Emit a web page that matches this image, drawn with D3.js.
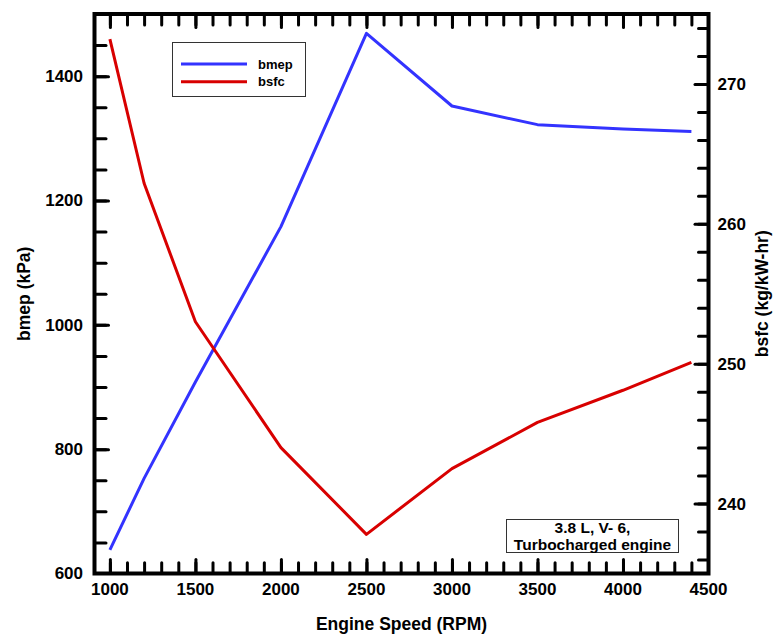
<!DOCTYPE html>
<html>
<head>
<meta charset="utf-8">
<script src="https://cdn.jsdelivr.net/npm/d3@7/dist/d3.min.js"></script>
<style>
  html, body { margin: 0; padding: 0; background: #fff; }
  svg { display: block; }
  text { font-family: "Liberation Sans", Arial, Helvetica, sans-serif; font-weight: bold; fill: #000; }
</style>
</head>
<body>
<svg id="chart" width="775" height="638"></svg>
<script>
// Engine speed (RPM)
const rpm = [1000, 1200, 1500, 2000, 2500, 3000, 3500, 4000, 4400];
// Brake mean effective pressure (kPa)
const bmep = [638, 753, 908, 1158, 1469, 1352, 1322, 1315, 1311];
// Brake specific fuel consumption, as labelled on the right axis
const bsfc = [273.2, 262.9, 253.0, 244.0, 237.8, 242.5, 245.8, 248.1, 250.1];

// Labelled ticks
const xTickLabels = [1000, 1500, 2000, 2500, 3000, 3500, 4000, 4500];
const bmepTickLabels = [600, 800, 1000, 1200, 1400];
const bsfcTickLabels = [240, 250, 260, 270];

const seriesNames = ["bmep", "bsfc"];
const seriesColors = ["#3333ff", "#d80000"];
const noteLines = ["3.8 L, V- 6,", "Turbocharged engine"];

const svg = d3.select("#chart");
const plotLeft = 94.5, plotRight = 708.5, plotTop = 14, plotBottom = 573.5;

const x = d3.scaleLinear().domain([910, 4500]).range([plotLeft, plotRight]);
const yL = d3.scaleLinear().domain([600, 1500]).range([plotBottom, plotTop]);
const yR = d3.scaleLinear().domain([235, 275]).range([plotBottom, plotTop]);

const tickStyle = g => g.selectAll("line")
  .attr("stroke", "#000").attr("stroke-width", 3).attr("stroke-linecap", "round");

// Inward-pointing ticks along a side, minor then major
function ticks(axisFn, scale, minorVals, majorVals, minorLen, majorLen, transform) {
  const gMin = svg.append("g").attr("transform", transform)
    .call(axisFn(scale).tickValues(minorVals).tickSize(-minorLen).tickFormat(""));
  const gMaj = svg.append("g").attr("transform", transform)
    .call(axisFn(scale).tickValues(majorVals).tickSize(-majorLen).tickFormat(""));
  [gMin, gMaj].forEach(g => { g.select(".domain").remove(); g.call(tickStyle); });
}

const xMinor = d3.range(1000, 4500, 100);
const xMajor = xTickLabels.filter(v => v < 4500);
ticks(d3.axisBottom, x, xMinor, xMajor, 10.8, 14, `translate(0,${plotBottom})`);
ticks(d3.axisTop, x, xMinor, xMajor, 11, 13.5, `translate(0,${plotTop})`);

const lMinor = d3.range(650, 1500, 50);
ticks(d3.axisLeft, yL, lMinor, bmepTickLabels.filter(v => v > 600), 11.5, 14, `translate(${plotLeft},0)`);

const rMinor = d3.range(236, 275, 2);
ticks(d3.axisRight, yR, rMinor, bsfcTickLabels, 10, 13.5, `translate(${plotRight},0)`);

// Frame
svg.append("rect")
  .attr("x", plotLeft).attr("y", plotTop)
  .attr("width", plotRight - plotLeft).attr("height", plotBottom - plotTop)
  .attr("fill", "none").attr("stroke", "#000").attr("stroke-width", 4);

// Tick labels
svg.append("g").selectAll("text").data(xTickLabels).join("text")
  .attr("x", d => x(d)).attr("y", 594.5)
  .attr("text-anchor", "middle").attr("font-size", 17).text(d => d);

svg.append("g").selectAll("text").data(bmepTickLabels).join("text")
  .attr("x", 83).attr("y", d => yL(d)).attr("dy", "0.35em")
  .attr("text-anchor", "end").attr("font-size", 17).text(d => d);

svg.append("g").selectAll("text").data(bsfcTickLabels).join("text")
  .attr("x", 717.5).attr("y", d => yR(d)).attr("dy", "0.35em")
  .attr("text-anchor", "start").attr("font-size", 17).text(d => d);

// Axis titles
svg.append("text").attr("x", (plotLeft + plotRight) / 2).attr("y", 630)
  .attr("text-anchor", "middle").attr("font-size", 17.5).text("Engine Speed (RPM)");
svg.append("text")
  .attr("transform", `translate(30,${(plotTop + plotBottom) / 2}) rotate(-90)`)
  .attr("text-anchor", "middle").attr("font-size", 17.5).text("bmep (kPa)");
svg.append("text")
  .attr("transform", `translate(768,${(plotTop + plotBottom) / 2}) rotate(-90)`)
  .attr("text-anchor", "middle").attr("font-size", 17.5).text("bsfc (kg/kW-hr)");

// Series lines
const lineL = d3.line().x((d, i) => x(rpm[i])).y(d => yL(d));
const lineR = d3.line().x((d, i) => x(rpm[i])).y(d => yR(d));

svg.append("path").datum(bmep).attr("d", lineL)
  .attr("fill", "none").attr("stroke", seriesColors[0]).attr("stroke-width", 3)
  .attr("stroke-linejoin", "round");
svg.append("path").datum(bsfc).attr("d", lineR)
  .attr("fill", "none").attr("stroke", seriesColors[1]).attr("stroke-width", 3)
  .attr("stroke-linejoin", "round");

// Legend
const legend = svg.append("g");
legend.append("rect").attr("x", 172.5).attr("y", 42.5).attr("width", 133).attr("height", 54)
  .attr("fill", "#fff").attr("stroke", "#333").attr("stroke-width", 1);
seriesNames.forEach((name, i) => {
  const yy = 64 + i * 17.7;
  legend.append("line").attr("x1", 181).attr("x2", 247).attr("y1", yy).attr("y2", yy)
    .attr("stroke", seriesColors[i]).attr("stroke-width", 3);
  legend.append("text").attr("x", 258).attr("y", yy + 4.5)
    .attr("font-size", 13).text(name);
});

// Engine note
const note = svg.append("g");
note.append("rect").attr("x", 506.5).attr("y", 519.5).attr("width", 172).attr("height", 33)
  .attr("fill", "#fff").attr("stroke", "#333").attr("stroke-width", 1);
noteLines.forEach((t, i) => {
  note.append("text").attr("x", 592.5).attr("y", 532.5 + i * 17.3)
    .attr("text-anchor", "middle").attr("font-size", 15.5).text(t);
});
</script>
</body>
</html>
